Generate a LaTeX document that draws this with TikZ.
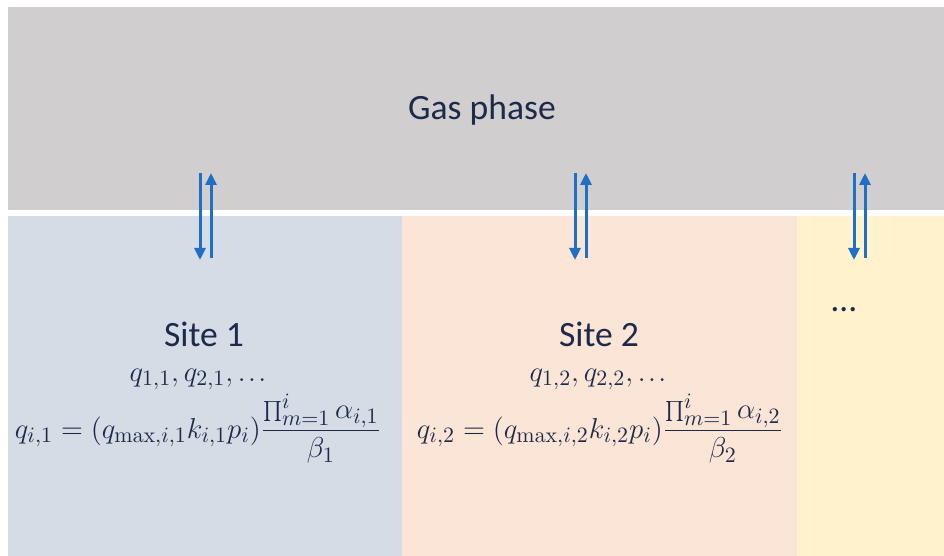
\documentclass[tikz,border=0pt]{standalone}
\usepackage[no-math]{fontspec}
\setmainfont{Carlito}
\usetikzlibrary{arrows.meta}
\definecolor{gasgray}{HTML}{D0CECE}
\definecolor{siteblue}{HTML}{D5DCE5}
\definecolor{siteorange}{HTML}{FBE5D6}
\definecolor{siteyellow}{HTML}{FFF2CC}
\definecolor{arrowblue}{HTML}{1F6FC5}
\definecolor{textnavy}{HTML}{1E2A4A}
\newcommand{\tightdots}{{.}\kern1.2pt{.}\kern1.2pt{.}}
\begin{document}
\begin{tikzpicture}[x=0.5pt,y=-0.5pt]
  \tikzset{label text/.style={text=textnavy, font=\fontsize{17.8}{20}\selectfont, anchor=base, inner sep=0pt},
    math text/.style={text=textnavy, font=\fontsize{15.8}{18}\selectfont, anchor=base, inner sep=0pt},
    flow/.style={draw=arrowblue, line width=1.5pt, -{Triangle[length=6pt,width=5.5pt]}}}
  \useasboundingbox (0,0) rectangle (944,556);
  \fill[white] (0,0) rectangle (944,556);
  % phases
  \fill[gasgray] (8,7) rectangle (944,210);
  \fill[siteblue] (8,216) rectangle (402,556);
  \fill[siteorange] (402,216) rectangle (797,556);
  \fill[siteyellow] (797,216) rectangle (944,556);
  \node[label text] (gas) at (482,120) {Gas phase};
  \node[label text] (site1) at (204,346) {Site 1};
  \node[label text] (site2) at (599,346) {Site 2};
  \node[label text] (site3) at (844,312) {…};
  \node[math text] (list1) at (198,381) {$q_{1,1}, q_{2,1}, \tightdots$};
  \node[math text] (list2) at (598,381) {$q_{1,2}, q_{2,2}, \tightdots$};
  \node[math text] (eq1) at (198,438)
    {$\displaystyle q_{i,1} = \bigl(q_{\max,i,1}k_{i,1}p_i\bigr)\frac{\prod_{m=1}^{i}\alpha_{i,1}}{\beta_1}$};
  \node[math text] (eq2) at (600,438)
    {$\displaystyle q_{i,2} = \bigl(q_{\max,i,2}k_{i,2}p_i\bigr)\frac{\prod_{m=1}^{i}\alpha_{i,2}}{\beta_2}$};
  % exchange arrows
  \foreach \x/\n in {200/a,575/b,854/c}{
    \coordinate (\n top) at (\x,173);
    \coordinate (\n bottom) at (\x,260);
    \coordinate (\n up top) at (\x+11,173);
    \coordinate (\n up bottom) at (\x+11,258);
    \draw[flow] (\n top) -- (\n bottom);
    \draw[flow] (\n up bottom) -- (\n up top);
  }
\end{tikzpicture}
\end{document}
